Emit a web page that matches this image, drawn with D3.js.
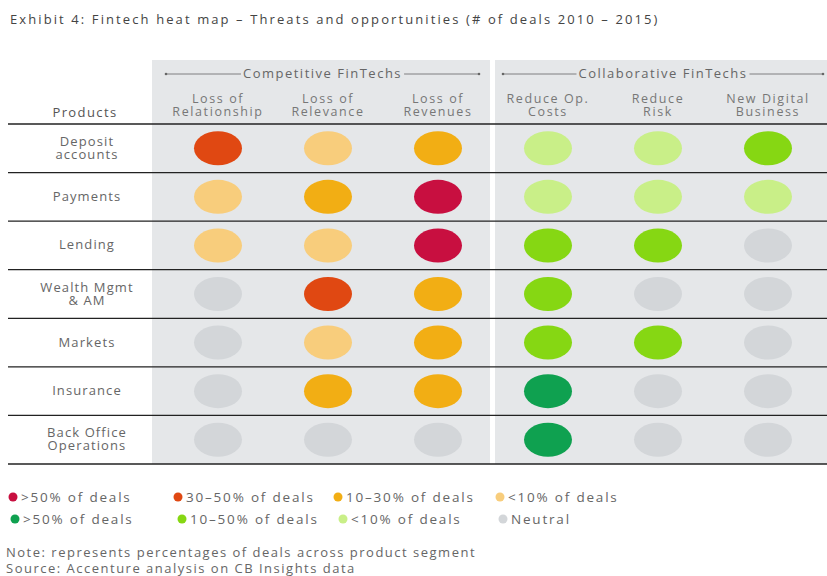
<!DOCTYPE html>
<html>
<head>
<meta charset="utf-8">
<script src="https://cdn.jsdelivr.net/npm/d3@7"></script>
<style>
  body { margin: 0; background: #fff; }
  text { font-family: "Open Sans", sans-serif; fill: #666; font-size: 13px; letter-spacing: 1.4px; }
</style>
</head>
<body>
<script>
const products = [
  ['Deposit', 'accounts'],
  ['Payments'],
  ['Lending'],
  ['Wealth Mgmt', '& AM'],
  ['Markets'],
  ['Insurance'],
  ['Back Office', 'Operations']
];
const columns = [
  ['Loss of', 'Relationship'],
  ['Loss of', 'Relevance'],
  ['Loss of', 'Revenues'],
  ['Reduce Op.', 'Costs'],
  ['Reduce', 'Risk'],
  ['New Digital', 'Business']
];
const groups = ['Competitive FinTechs', 'Collaborative FinTechs'];

// level codes per product row
const levels = [
  ['t2', 't0', 't1', 'o0', 'o0', 'o1'],
  ['t0', 't1', 't3', 'o0', 'o0', 'o0'],
  ['t0', 't0', 't3', 'o1', 'o1', 'n'],
  ['n', 't2', 't1', 'o1', 'n', 'n'],
  ['n', 't0', 't1', 'o1', 'o1', 'n'],
  ['n', 't1', 't1', 'o2', 'n', 'n'],
  ['n', 'n', 'n', 'o2', 'n', 'n']
];

const legendKeys = ['t3', 't2', 't1', 't0', 'o2', 'o1', 'o0', 'n'];
const legendLabels = ['>50% of deals', '30\u201350% of deals', '10\u201330% of deals', '<10% of deals',
  '>50% of deals', '10\u201350% of deals', '<10% of deals', 'Neutral'];

const color = d3.scaleOrdinal()
  .domain(legendKeys)
  .range(['#c80f40', '#e04812', '#f2ae14', '#f8cd7c', '#0fa150', '#86d713', '#c9ef88', '#d3d6d9']);

const width = 827, height = 576;
const svg = d3.select('body').append('svg')
  .attr('width', width)
  .attr('height', height);

svg.append('text')
  .attr('x', 10).attr('y', 24)
  .style('font-size', '13px')
  .style('letter-spacing', '2.1px')
  .style('fill', '#444')
  .text('Exhibit 4: Fintech heat map \u2013 Threats and opportunities (# of deals 2010 \u2013 2015)');

const x = d3.scaleBand()
  .domain(d3.range(columns.length))
  .range([163, 823]);
const y = d3.scaleBand()
  .domain(d3.range(products.length))
  .range([124, 464]);

// gray panels
const panels = [[152, 490], [495, 827]];
svg.selectAll('rect.panel')
  .data(panels)
  .enter().append('rect')
    .attr('x', d => d[0])
    .attr('y', 60)
    .attr('width', d => d[1] - d[0])
    .attr('height', 464 - 60)
    .attr('fill', '#e5e7e9');

// group headers with arrow lines
const groupSpan = [[166, 479], [503, 823]];
groups.forEach((g, i) => {
  const [a, b] = groupSpan[i];
  const cx = (a + b) / 2;
  const t = svg.append('text')
    .attr('x', cx).attr('y', 78)
    .attr('text-anchor', 'middle')
    .style('letter-spacing', '1.5px')
    .text(g);
  const w = t.node().getComputedTextLength();
  svg.append('line').attr('x1', a).attr('x2', cx - w / 2 - 2).attr('y1', 74).attr('y2', 74)
    .attr('stroke', '#666').attr('stroke-width', 0.8);
  svg.append('line').attr('x1', cx + w / 2 + 2).attr('x2', b).attr('y1', 74).attr('y2', 74)
    .attr('stroke', '#666').attr('stroke-width', 0.8);
  [a, b].forEach(px => svg.append('circle').attr('cx', px).attr('cy', 74).attr('r', 1.3).attr('fill', '#666'));
});

// column headers
columns.forEach((c, i) => {
  const t = svg.append('text')
    .attr('x', x(i) + x.bandwidth() / 2)
    .attr('y', 103)
    .attr('text-anchor', 'middle')
    .style('font-size', '12.5px')
    .style('letter-spacing', '1.6px')
    .style('fill', '#777');
  c.forEach((line, j) => t.append('tspan')
    .attr('x', x(i) + x.bandwidth() / 2)
    .attr('dy', j === 0 ? 0 : 12.5)
    .text(line));
});

svg.append('text')
  .attr('x', 85).attr('y', 117)
  .attr('text-anchor', 'middle')
  .style('fill', '#555')
  .text('Products');

// row labels
products.forEach((p, i) => {
  const cy = y(i) + y.bandwidth() / 2;
  const t = svg.append('text')
    .attr('x', 87)
    .attr('y', cy + 4 - (p.length - 1) * 6.5)
    .attr('text-anchor', 'middle')
    .style('letter-spacing', '1.1px');
  p.forEach((line, j) => t.append('tspan')
    .attr('x', 87)
    .attr('dy', j === 0 ? 0 : 13)
    .text(line));
});

// cells
const cells = [];
levels.forEach((row, r) => row.forEach((lv, c) => cells.push({ r, c, lv })));
svg.selectAll('ellipse.cell')
  .data(cells)
  .enter().append('ellipse')
    .attr('cx', d => x(d.c) + x.bandwidth() / 2)
    .attr('cy', d => y(d.r) + y.bandwidth() / 2)
    .attr('rx', 24)
    .attr('ry', 17)
    .attr('fill', d => color(d.lv));

// row lines
svg.selectAll('line.row')
  .data(d3.range(products.length + 1))
  .enter().append('line')
    .attr('x1', 8).attr('x2', width)
    .attr('y1', d => d === products.length ? 464 : y(d))
    .attr('y2', d => d === products.length ? 464 : y(d))
    .attr('stroke', '#222')
    .attr('stroke-width', 1.3);

// legend
const legendPos = [
  [13, 497], [178, 497], [338, 497], [500, 497],
  [15, 519], [182, 519], [343, 519], [503, 519]
];
const leg = svg.selectAll('g.leg')
  .data(legendKeys)
  .enter().append('g')
    .attr('transform', (d, i) => `translate(${legendPos[i][0]},${legendPos[i][1]})`);
leg.append('circle')
  .attr('r', 4.5)
  .attr('fill', d => color(d));
leg.append('text')
  .attr('x', 8).attr('y', 4.5)
  .style('font-size', '13.5px')
  .style('letter-spacing', '1.8px')
  .text((d, i) => legendLabels[i]);

svg.append('text')
  .attr('x', 6).attr('y', 557)
  .style('letter-spacing', '1.5px')
  .text('Note: represents percentages of deals across product segment');
svg.append('text')
  .attr('x', 6).attr('y', 573)
  .style('letter-spacing', '1.5px')
  .text('Source: Accenture analysis on CB Insights data');
</script>
</body>
</html>
